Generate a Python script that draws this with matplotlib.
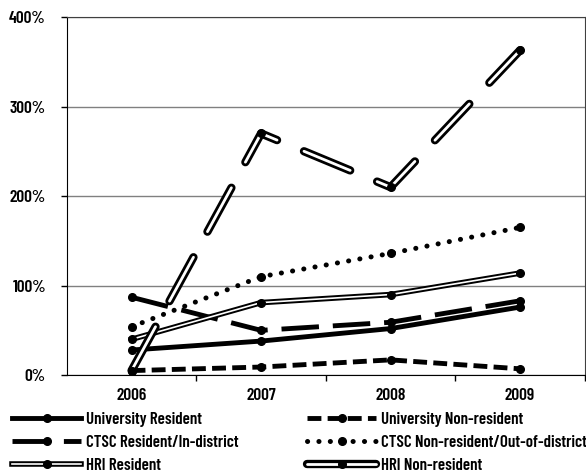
import matplotlib
matplotlib.use("Agg")
import matplotlib.pyplot as plt
import matplotlib.patheffects as pe
from matplotlib.lines import Line2D

plt.rcParams['font.family'] = ['Barlow Condensed', 'DejaVu Sans']
plt.rcParams['font.weight'] = 'semibold'
plt.rcParams['lines.scale_dashes'] = False

# data (percent)
years = ["2006", "2007", "2008", "2009"]
univ_res = [28, 38, 52, 76]
univ_nonres = [5, 9, 17, 7]
ctsc_res = [87, 50, 59, 83]
ctsc_nonres = [54, 110, 136, 165]
hri_res = [40, 81, 90, 114]
hri_nonres = [5, 270, 210, 363]

x = list(range(len(years)))

fig = plt.figure(figsize=(5.86, 4.76), dpi=100)
ax = fig.add_axes([0.114, 0.212, 0.884, 0.752])

ms = 5.5
l_ur, = ax.plot(x, univ_res, color='black', lw=3.5, marker='o', ms=ms, zorder=3)
l_un, = ax.plot(x, univ_nonres, color='black', lw=3.5, marker='o', ms=ms,
                dashes=(10, 4.5), zorder=3)
l_cr, = ax.plot(x, ctsc_res, color='black', lw=3.5, marker='o', ms=ms,
                dashes=(27, 10), zorder=3)
l_cn, = ax.plot(x, ctsc_nonres, color='black', lw=3.6, marker='o', ms=ms,
                dashes=(0.1, 8.1), dash_capstyle='round', zorder=3)

# double (outlined) lines for HRI
hr_fx = [pe.Stroke(linewidth=4, foreground='black'), pe.Normal()]
hn_fx = [pe.Stroke(linewidth=6, foreground='black', capstyle='round'), pe.Normal()]
l_hr, = ax.plot(x, hri_res, color='white', lw=1.2, zorder=4, path_effects=hr_fx)
m_hr, = ax.plot(x, hri_res, ls='none', marker='o', ms=ms, color='black', zorder=4.5)
l_hn, = ax.plot(x, hri_nonres, color='white', lw=2, dashes=(36, 21),
                dash_capstyle='round', zorder=5, path_effects=hn_fx)
m_hn, = ax.plot(x, hri_nonres, ls='none', marker='o', ms=ms, color='black', zorder=5.5)

ax.set_xlim(-0.5, 3.5)
ax.set_ylim(0, 400)
ax.set_yticks([0, 100, 200, 300, 400])
ax.set_yticklabels(["0%", "100%", "200%", "300%", "400%"])
ax.yaxis.grid(True, color='#808080', lw=1)
ax.set_axisbelow(True)
ax.set_xticks(x)
ax.set_xticklabels(years)
ax.set_xticks([0.5, 1.5, 2.5, 3.5], minor=True)
ax.tick_params(axis='x', which='major', length=0, pad=9, labelsize=12.5)
ax.tick_params(axis='x', which='minor', length=4, width=1, direction='out')
ax.tick_params(axis='y', length=4, width=1, direction='out', pad=11, labelsize=12.5)
ax.spines['left'].set_color('black')
ax.spines['bottom'].set_color('black')
ax.spines['top'].set_color('#404040')
ax.spines['right'].set_color('#404040')

# legend proxy for HRI non-resident: the legend shows it unbroken
p_hn = Line2D([], [], color='white', lw=2, solid_capstyle='round', path_effects=hn_fx)

handles = [l_ur, l_cr, (l_hr, m_hr), l_un, l_cn, (p_hn, m_hn)]
labels = ['University Resident', 'CTSC Resident/In-district', 'HRI Resident',
          'University Non-resident', 'CTSC Non-resident/Out-of-district',
          'HRI Non-resident']
ax.legend(handles=handles, labels=labels,
          ncol=2, loc='upper left', bbox_to_anchor=(-0.106, -0.102),
          frameon=False, handlelength=4.1, handletextpad=0.3,
          columnspacing=4.0, labelspacing=0.47, fontsize=12.2,
          borderaxespad=0, borderpad=0)

fig.savefig("out.png", dpi=100)
